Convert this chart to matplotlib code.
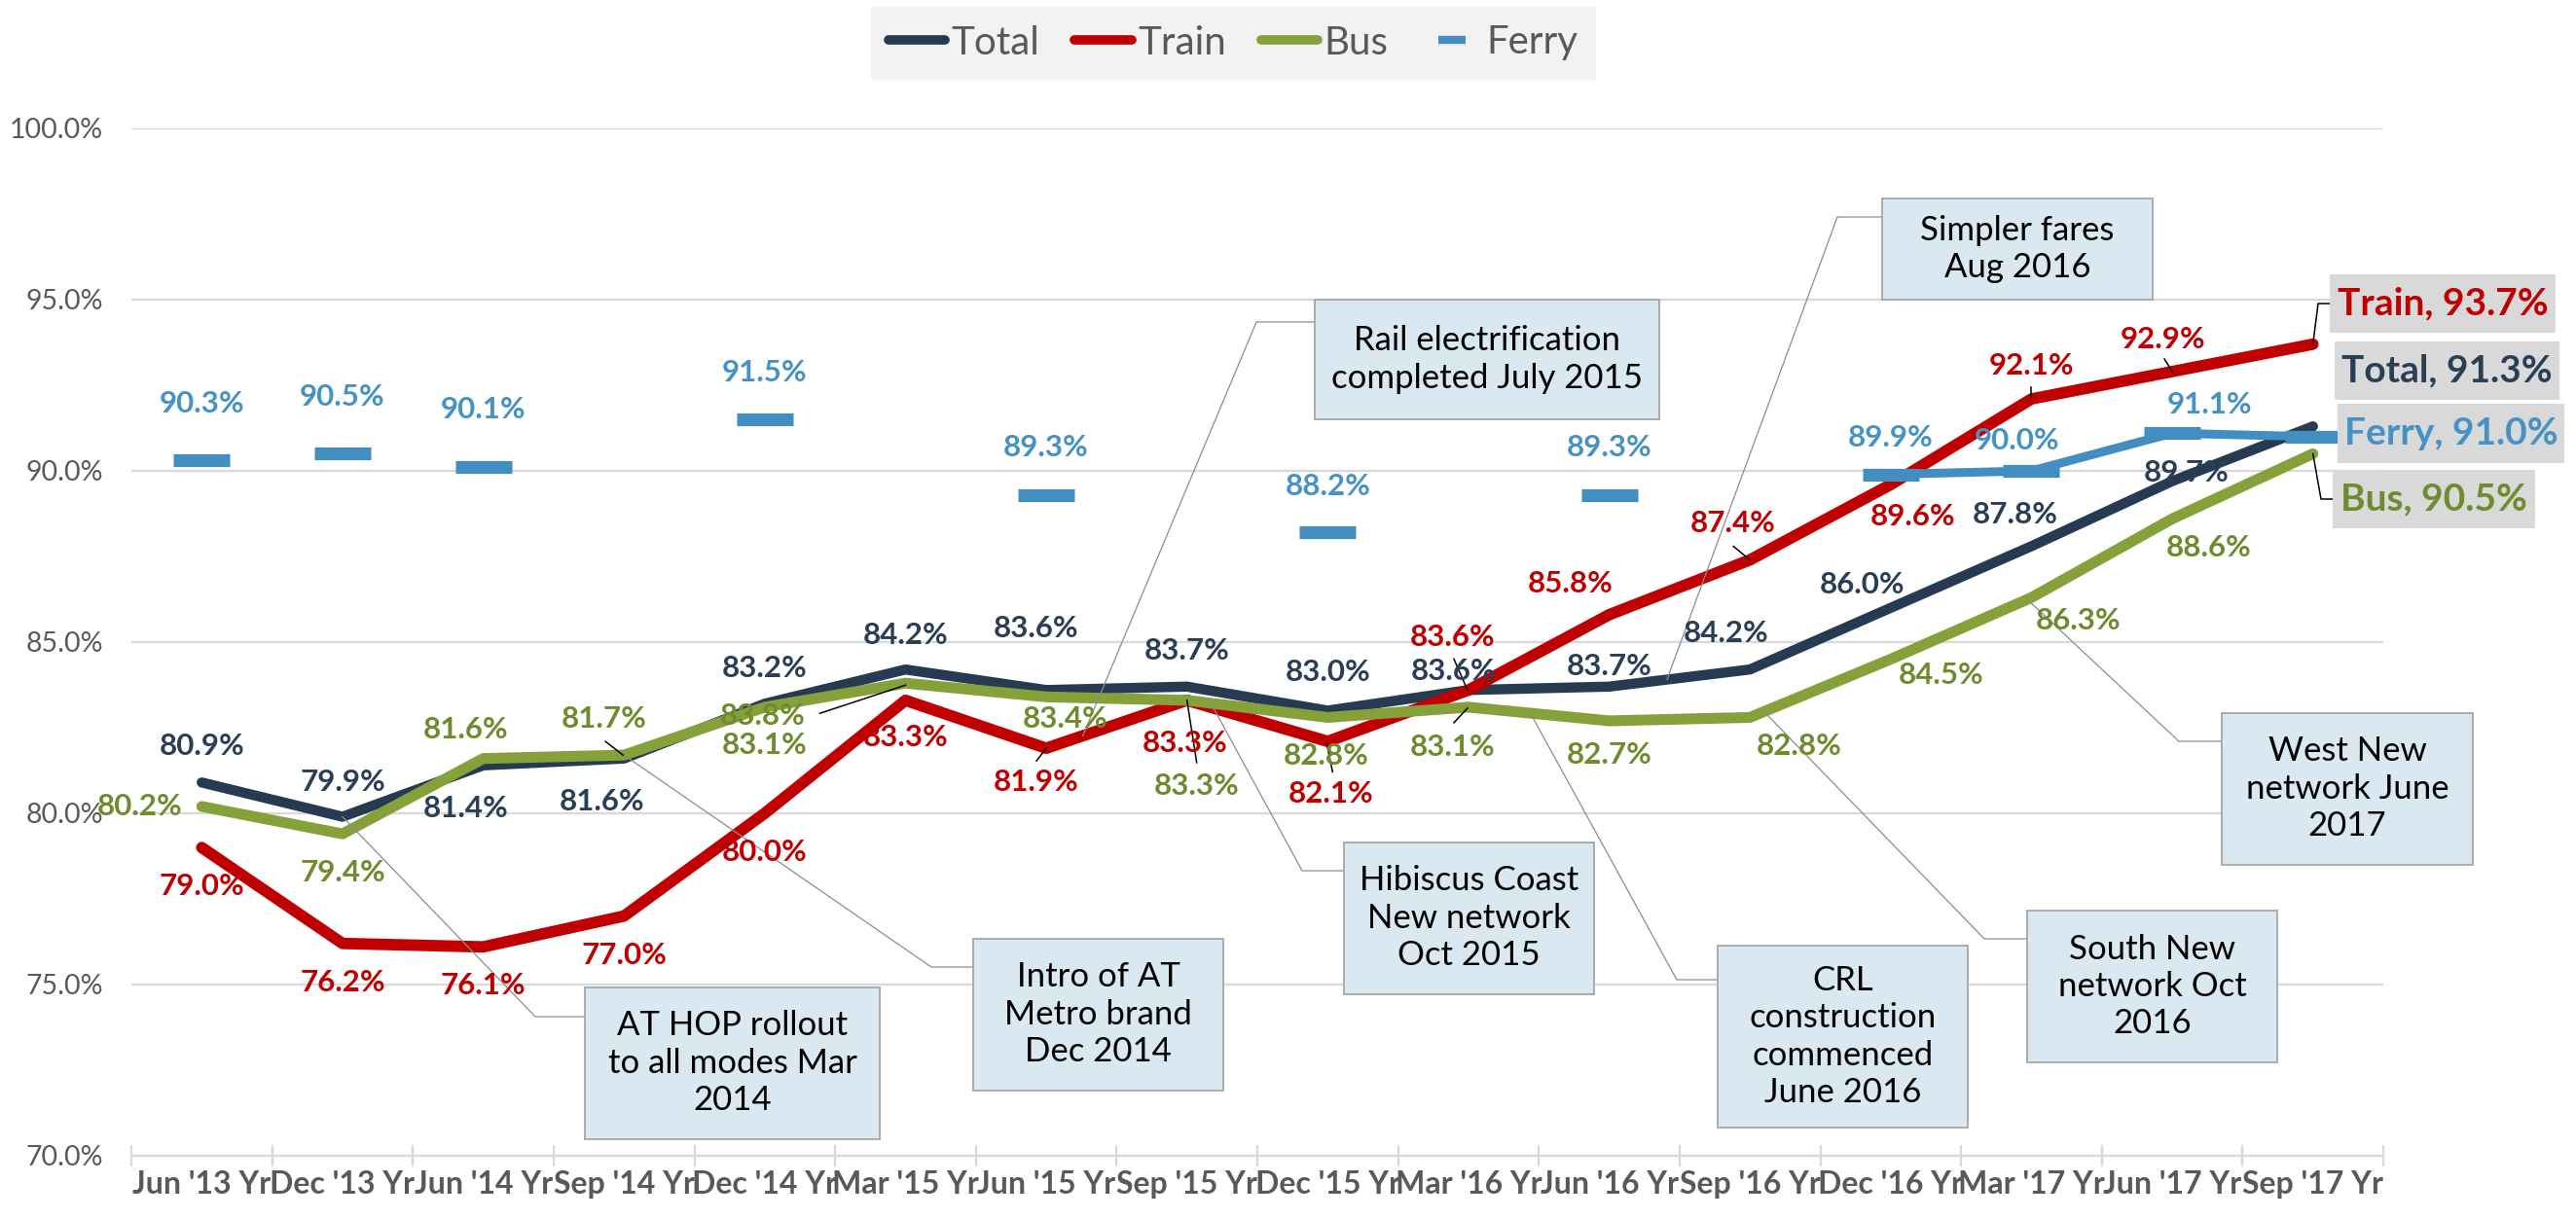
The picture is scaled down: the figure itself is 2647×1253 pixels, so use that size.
import numpy as np
import matplotlib
matplotlib.use("Agg")
import matplotlib.pyplot as plt
from matplotlib.patches import Rectangle
from matplotlib.lines import Line2D

plt.rcParams['font.family'] = ['Lato', 'DejaVu Sans']

# ---------------- data ----------------
categories = ["Jun '13 Yr", "Dec '13 Yr", "Jun '14 Yr", "Sep '14 Yr", "Dec '14 Yr",
              "Mar '15 Yr", "Jun '15 Yr", "Sep '15 Yr", "Dec '15 Yr", "Mar '16 Yr",
              "Jun '16 Yr", "Sep '16 Yr", "Dec '16 Yr", "Mar '17 Yr", "Jun '17 Yr",
              "Sep '17 Yr"]
total = [80.9, 79.9, 81.4, 81.6, 83.2, 84.2, 83.6, 83.7, 83.0, 83.6, 83.7, 84.2, 86.0, 87.8, 89.7, 91.3]
train = [79.0, 76.2, 76.1, 77.0, 80.0, 83.3, 81.9, 83.3, 82.1, 83.6, 85.8, 87.4, 89.6, 92.1, 92.9, 93.7]
bus = [80.2, 79.4, 81.6, 81.7, 83.1, 83.8, 83.4, 83.3, 82.8, 83.1, 82.7, 82.8, 84.5, 86.3, 88.6, 90.5]
nan = np.nan
ferry = [90.3, 90.5, 90.1, nan, 91.5, nan, 89.3, nan, 88.2, nan, 89.3, nan, 89.9, 90.0, 91.1, 91.0]
ferry_line_start = 12          # ferry shown as a connected line from Dec '16
yticks = [70, 75, 80, 85, 90, 95, 100]
series_names = ["Total", "Train", "Bus", "Ferry"]

events = [
    "AT HOP rollout\nto all modes Mar\n2014",
    "Intro of AT\nMetro brand\nDec 2014",
    "Rail electrification\ncompleted July 2015",
    "Hibiscus Coast\nNew network\nOct 2015",
    "Simpler fares\nAug 2016",
    "CRL\nconstruction\ncommenced\nJune 2016",
    "South New\nnetwork Oct\n2016",
    "West New\nnetwork June\n2017",
]

# ---------------- styles / layout ----------------
C_TOTAL, C_TRAIN, C_BUS, C_FERRY = '#263B52', '#C00000', '#86A03A', '#428EC1'
L_TOTAL, L_TRAIN, L_BUS, L_FERRY = '#2A3F56', '#C00000', '#6F8B2E', '#4692C5'
GRID = '#D9D9D9'
GRAYTXT = '#595959'

W, H = 2647, 1253
AX_L, AX_R, AX_T, AX_B = 135, 2449, 132, 1188
n = len(categories)
px_per_cat = (AX_R - AX_L) / n
px_per_pct = (AX_B - AX_T) / 30.0


def px2x(xp):
    return (xp - AX_L) / px_per_cat - 0.5


def px2y(yp):
    return 100 - (yp - AX_T) / px_per_pct


fig = plt.figure(figsize=(W / 100, H / 100), dpi=100)
ax = fig.add_axes([AX_L / W, (H - AX_B) / H, (AX_R - AX_L) / W, (AX_B - AX_T) / H])
ax.set_xlim(-0.5, n - 0.5)
ax.set_ylim(70, 100)

x = np.arange(n)

# lines
ax.plot(x, total, color=C_TOTAL, lw=7.5, solid_capstyle='round', solid_joinstyle='round', zorder=3)
ax.plot(x, train, color=C_TRAIN, lw=8.5, solid_capstyle='round', solid_joinstyle='round', zorder=4)
ax.plot(x, bus, color=C_BUS, lw=8.0, solid_capstyle='round', solid_joinstyle='round', zorder=5)
fer = np.array(ferry, dtype=float)
ax.plot(x[ferry_line_start:], fer[ferry_line_start:], color=C_FERRY, lw=6.5, solid_joinstyle='round', zorder=6)
ax.plot(x, fer, linestyle='none', marker='_', markersize=42, mew=9.5, color=C_FERRY, zorder=6)

# axes styling
for s in ['top', 'right', 'left']:
    ax.spines[s].set_visible(False)
ax.spines['bottom'].set_color(GRID)
ax.spines['bottom'].set_linewidth(1.6)
ax.set_yticks(yticks)
ax.set_yticklabels([f"{v:.1f}%" for v in yticks], fontsize=20.5, color=GRAYTXT)
ax.tick_params(axis='y', length=0, pad=21)
ax.yaxis.grid(True, color=GRID, lw=1.6)
ax.set_axisbelow(True)
ax.set_xticks(x)
ax.set_xticklabels(categories, fontsize=23, fontweight='bold', color=GRAYTXT)
ax.tick_params(axis='x', which='major', length=0, pad=11)
ax.set_xticks(np.arange(-0.5, n, 1.0), minor=True)
ax.tick_params(axis='x', which='minor', length=16, width=1.6, color=GRID, direction='inout')

# ---------------- data labels ----------------
off_total = [(0, 37), (0, 36), (-18, -44), (-23, -44), (0, 36), (0, 35), (-10, 63), (0, 37),
             (0, 39), (-15, 19), (0, 21), (-25, 37), (-29, 24), (-17, 32), (15, 9)]
off_train = [(0, -40), (0, -40), (0, -40), (0, -40), (0, -40), (0, -38), (-10, -35), (-2, -44),
             (3, -54), (-16, 54), (-40, 32), (-18, 38), (23, -33), (0, 34), (-9, 33)]
off_bus = [(-64, 0), (0, -40), (-18, 30), (-20, 37), (0, -39), (-147, -34), (20, -23), (10, -88),
           (-2, -40), (-16, -41), (0, -35), (51, -30), (52, -16), (48, -24), (38, -30)]
off_ferry = {0: (0, 58), 1: (0, 58), 2: (0, 59), 4: (0, 48), 6: (0, 49), 8: (0, 47), 10: (0, 49),
             12: (0, 38), 13: (-15, 31), 14: (39, 29)}


def put_labels(vals, offs, color):
    for i, v in enumerate(vals):
        if i == len(vals) - 1 or np.isnan(v):
            continue
        dx, dy = offs[i]
        ax.annotate(f"{v:.1f}%", (i, v), xytext=(dx, dy), textcoords='offset pixels',
                    ha='center', va='center', color=color, fontsize=22.5,
                    fontweight='bold', zorder=12, annotation_clip=False)


put_labels(total, off_total, L_TOTAL)
put_labels(train, off_train, L_TRAIN)
put_labels(bus, off_bus, L_BUS)
put_labels(ferry, off_ferry, L_FERRY)

# small label leader ticks (pixel offsets from the point: start, end)
label_leaders = [(bus, 3, (-19, 14), (-1, 0)), (bus, 5, (-88, -31), (0, -2)),
                 (train, 6, (-10, -13), (0, 0)), (train, 7, (0, 0), (10, -64)),
                 (bus, 8, (-1, -27), (5, -56)), (total, 9, (-15, 32), (-1, 0)),
                 (bus, 9, (-15, -16), (-1, -1)), (train, 11, (-17, 14), (0, 0)),
                 (train, 13, (0, 12), (0, 0)), (train, 14, (-8, 13), (0, 0))]
fig.canvas.draw()
for vals, i, a, b in label_leaders:
    px, py = ax.transData.transform((i, vals[i]))
    inv = ax.transData.inverted()
    p1 = inv.transform((px + a[0], py + a[1]))
    p2 = inv.transform((px + b[0], py + b[1]))
    ax.plot([p1[0], p2[0]], [p1[1], p2[1]], color='black', lw=1.1, zorder=11, clip_on=False)

# ---------------- event annotation boxes ----------------
ev_boxes = [(601, 904, 1015, 1171), (1000, 1257, 965, 1121), (1351, 1705, 308, 431),
            (1381, 1638, 866, 1022), (1934, 2212, 204, 308), (1765, 2022, 972, 1159),
            (2083, 2340, 936, 1092), (2283, 2541, 733, 889)]
ev_anchor = [(total, 1.0), (bus, 3.0), (train, 6.26), (bus, 7.17), (total, 10.41),
             (bus, 9.44), (bus, 11.1), (bus, 12.97)]
ev_elbow = [(550, 1045), (957, 994), (1291, 331), (1338, 895), (1888, 223),
            (1723, 1007), (2039, 965), (2239, 762)]

for txt, (x0, x1, y0, y1), (ser, xa), (ex, ey) in zip(events, ev_boxes, ev_anchor, ev_elbow):
    ya = np.interp(xa, x, ser)
    ax.plot([xa, px2x(ex), px2x(x0)], [ya, px2y(ey), px2y(ey)], color='#8C8C8C', lw=0.9,
            zorder=9, clip_on=False, solid_joinstyle='miter')
    ax.add_patch(Rectangle((px2x(x0), px2y(y1)), px2x(x1) - px2x(x0), px2y(y0) - px2y(y1),
                           facecolor='#DAE8F1', edgecolor='#A6A6A6', lw=1.3, zorder=13,
                           clip_on=False))
    ax.text(px2x((x0 + x1) / 2), px2y((y0 + y1) / 2), txt, ha='center', va='center',
            fontsize=25, color='black', linespacing=1.25, zorder=14)

# ---------------- end labels ----------------
end_boxes = [(f"Train, {train[-1]:.1f}%", L_TRAIN, (2394, 2626, 282, 342)),
             (f"Total, {total[-1]:.1f}%", L_TOTAL, (2399, 2630, 351, 411)),
             (f"Ferry, {ferry[-1]:.1f}%", L_FERRY, (2402, 2635, 415, 476)),
             (f"Bus, {bus[-1]:.1f}%", L_BUS, (2397, 2605, 483, 543))]
for txt, col, (x0, x1, y0, y1) in end_boxes:
    ax.add_patch(Rectangle((px2x(x0), px2y(y1)), px2x(x1) - px2x(x0), px2y(y0) - px2y(y1),
                           facecolor='#D9D9D9', edgecolor='none', zorder=13, clip_on=False))
    ax.text(px2x((x0 + x1) / 2), px2y((y0 + y1) / 2), txt, ha='center', va='center',
            fontsize=28, fontweight='bold', color=col, zorder=14, clip_on=False)

# leaders for train and bus end labels
ax.plot([n - 1, px2x(2382), px2x(2394)], [train[-1], px2y(312), px2y(312)], color='black',
        lw=1.1, zorder=12, clip_on=False)
ax.plot([n - 1, px2x(2385), px2x(2397)], [bus[-1], px2y(513), px2y(513)], color='black',
        lw=1.1, zorder=12, clip_on=False)

# ---------------- legend ----------------
handles = [Line2D([], [], color=C_TOTAL, lw=7, solid_capstyle='round'),
           Line2D([], [], color=C_TRAIN, lw=7, solid_capstyle='round'),
           Line2D([], [], color=C_BUS, lw=7, solid_capstyle='round'),
           Line2D([], [], color=C_FERRY, marker='_', markersize=20, mew=6, linestyle='none')]
leg = fig.legend(handles, series_names, loc='center', bbox_to_anchor=(1267 / W, 1 - 44 / H),
                 ncol=4, frameon=True, fancybox=False, facecolor='#F2F2F2', edgecolor='#F2F2F2',
                 framealpha=1, fontsize=29, handlelength=1.45, handletextpad=0.15,
                 columnspacing=0.9, borderpad=0.45, labelcolor=GRAYTXT)

fig.savefig("out.png", dpi=100)
